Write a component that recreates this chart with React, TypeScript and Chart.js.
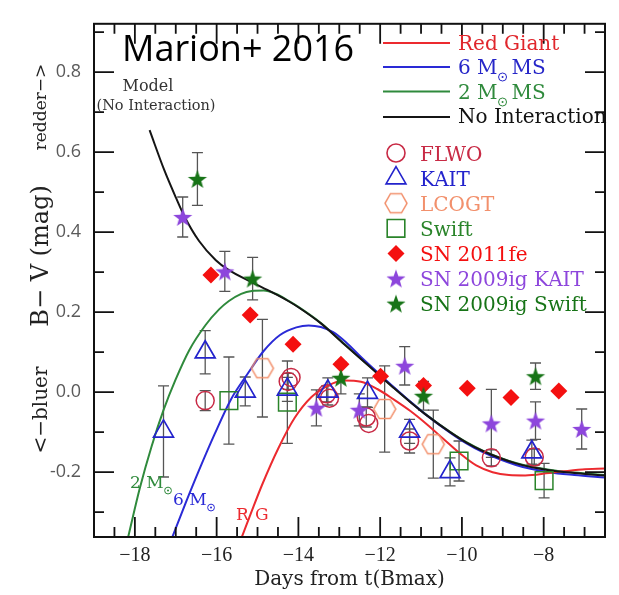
import React, { useEffect, useRef } from "react";
import { Chart, registerables } from "chart.js";

Chart.register(...registerables);

// ---------- model B−V curves (days from t(Bmax)) ----------
const RG_DAYS = [-15.33, -15.12, -14.84, -14.44, -14.04, -13.63, -13.23, -12.83, -12.42, -12.02, -11.62, -11.21, -10.81, -10.4, -10.0, -9.6, -9.2, -8.8, -8.4, -7.82, -7.01, -6.45];
const RG_BV = [-0.361, -0.305, -0.232, -0.14, -0.064, -0.012, 0.016, 0.029, 0.026, 0.008, -0.018, -0.047, -0.08, -0.117, -0.153, -0.183, -0.2, -0.207, -0.208, -0.202, -0.193, -0.191];

const MS6_DAYS = [-17.03, -16.7, -16.38, -16.0, -15.6, -15.2, -14.8, -14.4, -14.0, -13.7, -13.4, -13.1, -12.8, -12.4, -12.02, -11.6, -11.21, -10.81, -10.24, -9.84, -9.44, -8.63, -7.82, -7.2, -6.45];
const MS6_BV = [-0.361, -0.275, -0.195, -0.105, -0.018, 0.045, 0.103, 0.143, 0.162, 0.167, 0.163, 0.15, 0.126, 0.086, 0.05, 0.011, -0.024, -0.058, -0.101, -0.128, -0.15, -0.182, -0.2, -0.207, -0.213];

const MS2_DAYS = [-18.11, -17.83, -17.54, -17.25, -16.96, -16.62, -16.22, -15.89, -15.65, -15.35, -15.09, -14.8, -14.51, -14.2, -13.96, -13.4, -12.83, -12.4, -12.02, -11.6, -11.21, -10.81, -10.24, -9.84, -9.44, -8.63, -7.82, -7.2, -6.45];
const MS2_BV = [-0.36, -0.24, -0.135, -0.045, 0.03, 0.105, 0.168, 0.207, 0.228, 0.246, 0.253, 0.254, 0.246, 0.229, 0.214, 0.173, 0.121, 0.082, 0.048, 0.01, -0.024, -0.057, -0.099, -0.125, -0.146, -0.177, -0.194, -0.201, -0.207];

const NOINT_DAYS = [-17.59, -17.23, -16.94, -16.74, -16.38, -15.97, -15.65, -15.09, -14.6, -14.2, -13.96, -13.4, -12.83, -12.4, -12.02, -11.6, -11.21, -10.81, -10.24, -9.84, -9.44, -8.63, -7.82, -7.2, -6.45];
const NOINT_BV = [0.655, 0.555, 0.485, 0.44, 0.378, 0.33, 0.305, 0.275, 0.25, 0.228, 0.213, 0.172, 0.12, 0.081, 0.047, 0.009, -0.025, -0.058, -0.1, -0.126, -0.147, -0.178, -0.195, -0.202, -0.208];

// ---------- observed colours of SN 2012cg and comparison SNe ----------
const FLWO_DAYS = [-16.23, -14.2, -14.13, -13.26, -13.19, -12.29, -12.23, -11.23, -9.23, -8.18];
const FLWO_BV = [-0.021, 0.027, 0.037, -0.004, -0.015, -0.062, -0.078, -0.122, -0.164, -0.162];
const FLWO_ERR = [0.025, 0.02, 0, 0.02, 0, 0.025, 0, 0.03, 0.02, 0.02];

const KAIT_DAYS = [-17.25, -16.23, -15.25, -14.22, -13.23, -12.26, -11.23, -10.24, -8.24];
const KAIT_BV = [-0.098, 0.1, 0.002, 0.007, 0.002, -0.001, -0.098, -0.199, -0.15];
const KAIT_ERR = [0.114, 0.054, 0.036, 0.03, 0.034, 0.037, 0.03, 0.035, 0.03];

const LCOGT_DAYS = [-14.83, -11.84, -10.65];
const LCOGT_BV = [0.06, -0.042, -0.13];
const LCOGT_ERR = [0.122, 0.108, 0.085];

const SWIFT_DAYS = [-15.65, -14.22, -10.02, -7.94];
const SWIFT_BV = [-0.021, -0.025, -0.172, -0.221];
const SWIFT_ERR = [0.109, 0.103, 0.05, 0.043];

const SN2011FE_DAYS = [-16.09, -15.13, -14.08, -12.91, -11.94, -10.89, -9.82, -8.75, -7.58];
const SN2011FE_BV = [0.293, 0.193, 0.12, 0.07, 0.04, 0.017, 0.01, -0.013, 0.003];

const IG_KAIT_DAYS = [-16.78, -15.75, -13.51, -12.46, -11.35, -9.23, -8.15, -7.02];
const IG_KAIT_BV = [0.438, 0.302, -0.039, -0.044, 0.066, -0.078, -0.071, -0.092];
const IG_KAIT_ERR = [0.05, 0.05, 0.045, 0.04, 0.048, 0.085, 0.047, 0.05];

const IG_SWIFT_DAYS = [-16.42, -15.07, -12.91, -10.89, -8.15];
const IG_SWIFT_BV = [0.533, 0.284, 0.036, -0.009, 0.04];
const IG_SWIFT_ERR = [0.066, 0.053, 0.04, 0.036, 0.033];

// ---------- axes ----------
const X_MIN = -18.95;
const X_MAX = -6.45;
const Y_MIN = -0.362;
const Y_MAX = 0.921;
const X_LABELLED = [-18, -16, -14, -12, -10, -8];
const Y_LABELLED = [-0.2, 0.0, 0.2, 0.4, 0.6, 0.8];

// ---------- colours ----------
const C_RG = "#ec2a2f";
const C_MS6 = "#2a2ad6";
const C_MS2 = "#2f8a3c";
const C_NOINT = "#151515";
const C_FLWO = "#c82a45";
const C_KAIT = "#2323cc";
const C_LCOGT = "#f2906c";
const C_SWIFT = "#2a842a";
const C_2011FE = "#f41010";
const C_IG_KAIT = "#8d46dc";
const C_IG_SWIFT = "#177417";
const C_ERR = "#555555";

const SERIF = '"DejaVu Serif"';

const pts = (xs: number[], ys: number[]) => xs.map((x, i) => ({ x, y: ys[i] }));

function starImage(color: string, outer: number, inner: number) {
  const size = Math.ceil(outer * 2 + 2);
  const c = document.createElement("canvas");
  c.width = size;
  c.height = size;
  const g = c.getContext("2d")!;
  g.translate(size / 2, size / 2 + 1);
  g.beginPath();
  for (let i = 0; i < 10; i++) {
    const r = i % 2 === 0 ? outer : inner;
    const a = -Math.PI / 2 + (i * Math.PI) / 5;
    g.lineTo(r * Math.cos(a), r * Math.sin(a));
  }
  g.closePath();
  g.fillStyle = color;
  g.fill();
  return c;
}

function hexImage(color: string, r: number) {
  const size = Math.ceil(r * 2 + 4);
  const c = document.createElement("canvas");
  c.width = size;
  c.height = size;
  const g = c.getContext("2d")!;
  g.translate(size / 2, size / 2);
  g.beginPath();
  for (let i = 0; i < 6; i++) {
    const a = (i * Math.PI) / 3;
    g.lineTo(r * Math.cos(a), r * Math.sin(a));
  }
  g.closePath();
  g.strokeStyle = color;
  g.lineWidth = 1.5;
  g.stroke();
  return c;
}

function sunSymbol(ctx: CanvasRenderingContext2D, x: number, y: number, r: number, color: string) {
  ctx.save();
  ctx.strokeStyle = color;
  ctx.fillStyle = color;
  ctx.lineWidth = 1;
  ctx.beginPath();
  ctx.arc(x, y, r, 0, Math.PI * 2);
  ctx.stroke();
  ctx.beginPath();
  ctx.arc(x, y, 1, 0, Math.PI * 2);
  ctx.fill();
  ctx.restore();
}

// "n M⊙ rest" with the solar symbol set as a subscript
function massText(ctx: CanvasRenderingContext2D, x: number, y: number, lead: string, rest: string, size: number, color: string) {
  ctx.font = `${size}px ${SERIF}`;
  ctx.fillStyle = color;
  ctx.textAlign = "left";
  ctx.textBaseline = "alphabetic";
  ctx.fillText(lead, x, y);
  const w = ctx.measureText(lead).width;
  const r = size * 0.2;
  sunSymbol(ctx, x + w + r + 1, y + size * 0.15, r, color);
  if (rest) ctx.fillText(rest, x + w + 2 * r + 6, y);
}

export default function App() {
  const ref = useRef<HTMLCanvasElement>(null);

  useEffect(() => {
    const canvas = ref.current;
    if (!canvas) return;

    const purpleStar = starImage(C_IG_KAIT, 10, 4.1);
    const greenStar = starImage(C_IG_SWIFT, 10, 4.1);
    const hexagon = hexImage(C_LCOGT, 11);

    const curve = (label: string, xs: number[], ys: number[], color: string, order: number) => ({
      label,
      data: pts(xs, ys),
      showLine: true,
      borderColor: color,
      borderWidth: 2,
      pointRadius: 0,
      cubicInterpolationMode: "monotone",
      fill: false,
      order,
    });

    const datasets: any[] = [
      curve("No Interaction", NOINT_DAYS, NOINT_BV, C_NOINT, 10),
      curve("Red Giant", RG_DAYS, RG_BV, C_RG, 11),
      curve("6 M MS", MS6_DAYS, MS6_BV, C_MS6, 12),
      curve("2 M MS", MS2_DAYS, MS2_BV, C_MS2, 13),
      {
        label: "Swift",
        data: pts(SWIFT_DAYS, SWIFT_BV),
        errors: SWIFT_ERR,
        pointStyle: "rect",
        pointRadius: 12.5,
        borderColor: C_SWIFT,
        backgroundColor: "rgba(0,0,0,0)",
        borderWidth: 1.5,
        order: 6,
      },
      {
        label: "LCOGT",
        data: pts(LCOGT_DAYS, LCOGT_BV),
        errors: LCOGT_ERR,
        pointStyle: hexagon,
        order: 5,
      },
      {
        label: "SN 2011fe",
        data: pts(SN2011FE_DAYS, SN2011FE_BV),
        pointStyle: "rectRot",
        pointRadius: 8.5,
        borderWidth: 0,
        backgroundColor: C_2011FE,
        borderColor: C_2011FE,
        order: 4,
      },
      {
        label: "FLWO",
        data: pts(FLWO_DAYS, FLWO_BV),
        errors: FLWO_ERR,
        pointStyle: "circle",
        pointRadius: 9,
        borderColor: C_FLWO,
        backgroundColor: "rgba(0,0,0,0)",
        borderWidth: 1.5,
        order: 3,
      },
      {
        label: "KAIT",
        data: pts(KAIT_DAYS, KAIT_BV),
        errors: KAIT_ERR,
        pointStyle: "triangle",
        pointRadius: 11.5,
        borderColor: C_KAIT,
        backgroundColor: "rgba(0,0,0,0)",
        borderWidth: 1.7,
        order: 2,
      },
      {
        label: "SN 2009ig KAIT",
        data: pts(IG_KAIT_DAYS, IG_KAIT_BV),
        errors: IG_KAIT_ERR,
        pointStyle: purpleStar,
        order: 1,
      },
      {
        label: "SN 2009ig Swift",
        data: pts(IG_SWIFT_DAYS, IG_SWIFT_BV),
        errors: IG_SWIFT_ERR,
        pointStyle: greenStar,
        order: 0,
      },
    ];

    const background = {
      id: "background",
      beforeDraw(chart: any) {
        const { ctx, width, height } = chart;
        ctx.save();
        ctx.fillStyle = "#ffffff";
        ctx.fillRect(0, 0, width, height);
        ctx.restore();
      },
    };

    const errorBars = {
      id: "errorBars",
      beforeDatasetsDraw(chart: any) {
        const { ctx, chartArea, scales } = chart;
        const xs = scales.x;
        const ys = scales.y;
        ctx.save();
        ctx.beginPath();
        ctx.rect(chartArea.left, chartArea.top, chartArea.right - chartArea.left, chartArea.bottom - chartArea.top);
        ctx.clip();
        ctx.strokeStyle = C_ERR;
        ctx.lineWidth = 1.3;
        chart.data.datasets.forEach((ds: any) => {
          if (!ds.errors) return;
          ds.data.forEach((p: any, i: number) => {
            const e = ds.errors[i];
            if (!e) return;
            const px = xs.getPixelForValue(p.x);
            const top = ys.getPixelForValue(p.y + e);
            const bot = ys.getPixelForValue(p.y - e);
            ctx.beginPath();
            ctx.moveTo(px, top);
            ctx.lineTo(px, bot);
            ctx.moveTo(px - 5.5, top);
            ctx.lineTo(px + 5.5, top);
            ctx.moveTo(px - 5.5, bot);
            ctx.lineTo(px + 5.5, bot);
            ctx.stroke();
          });
        });
        ctx.restore();
      },
    };

    const frame = {
      id: "frame",
      afterDraw(chart: any) {
        const { ctx, chartArea: a, scales } = chart;
        ctx.save();
        ctx.strokeStyle = "#111";
        ctx.lineWidth = 2;
        ctx.strokeRect(a.left, a.top, a.right - a.left, a.bottom - a.top);
        ctx.lineWidth = 1.8;
        ctx.beginPath();
        scales.x.ticks.forEach((t: any) => {
          const px = scales.x.getPixelForValue(t.value);
          const len = t.label ? 20 : 10;
          ctx.moveTo(px, a.bottom);
          ctx.lineTo(px, a.bottom - len);
          ctx.moveTo(px, a.top);
          ctx.lineTo(px, a.top + len);
        });
        scales.y.ticks.forEach((t: any) => {
          const py = scales.y.getPixelForValue(t.value);
          const len = t.label ? 20 : 10;
          ctx.moveTo(a.left, py);
          ctx.lineTo(a.left + len, py);
          ctx.moveTo(a.right, py);
          ctx.lineTo(a.right - len, py);
        });
        ctx.stroke();
        ctx.restore();
      },
    };

    const annotations = {
      id: "annotations",
      afterDraw(chart: any) {
        const { ctx, chartArea: a } = chart;
        ctx.save();

        // heading
        ctx.fillStyle = "#000";
        ctx.font = '36px "Open Sans"';
        ctx.textAlign = "left";
        ctx.textBaseline = "alphabetic";
        ctx.fillText("Marion+ 2016", 122, 61);

        // model label
        ctx.fillStyle = "#333";
        ctx.textAlign = "center";
        ctx.font = `16px ${SERIF}`;
        ctx.fillText("Model", 148, 91);
        ctx.font = `14.5px ${SERIF}`;
        ctx.fillText("(No Interaction)", 156, 110);

        // curve tags near the lower axis
        massText(ctx, 130, 488, "2 M", "", 17, C_MS2);
        massText(ctx, 173, 505, "6 M", "", 17, C_MS6);
        ctx.font = `17px ${SERIF}`;
        ctx.fillStyle = C_RG;
        ctx.textAlign = "left";
        ctx.fillText("R", 236, 520);
        ctx.fillText("G", 255, 520);

        // axis titles
        ctx.fillStyle = "#222";
        ctx.textAlign = "center";
        ctx.font = `20px ${SERIF}`;
        ctx.fillText("Days from t(Bmax)", (a.left + a.right) / 2, 585);

        ctx.save();
        ctx.translate(48, 0);
        ctx.rotate(-Math.PI / 2);
        ctx.textBaseline = "alphabetic";
        ctx.font = `17px ${SERIF}`;
        ctx.fillText("redder\u2212>", -107, -2);
        ctx.font = `24px ${SERIF}`;
        ctx.fillText("B\u2212 V (mag)", -256, 0);
        ctx.font = `20px ${SERIF}`;
        ctx.fillText("<\u2212bluer", -410, -1);
        ctx.restore();

        // legend: model curves
        const lineRows: [string, string, string, string][] = [
          ["Red Giant", "", C_RG, "#e0262c"],
          ["6 M", "MS", C_MS6, "#2626c8"],
          ["2 M", "MS", C_MS2, "#2f8a3c"],
          ["No Interaction", "", C_NOINT, "#111"],
        ];
        const lineY = [43, 67, 91.5, 117];
        const textY = [50, 74, 99, 123];
        lineRows.forEach(([lead, rest, lc, tc], i) => {
          ctx.strokeStyle = lc;
          ctx.lineWidth = 2;
          ctx.beginPath();
          ctx.moveTo(383, lineY[i]);
          ctx.lineTo(450, lineY[i]);
          ctx.stroke();
          if (rest) {
            massText(ctx, 458, textY[i], lead, rest, 20, tc);
          } else {
            ctx.font = `20px ${SERIF}`;
            ctx.fillStyle = tc;
            ctx.textAlign = "left";
            ctx.fillText(lead, 458, textY[i]);
          }
        });

        // legend: data sets
        const markRows: [string, string, string][] = [
          ["FLWO", "circle", C_FLWO],
          ["KAIT", "triangle", C_KAIT],
          ["LCOGT", "hexagon", C_LCOGT],
          ["Swift", "square", C_SWIFT],
          ["SN 2011fe", "diamond", C_2011FE],
          ["SN 2009ig KAIT", "pstar", C_IG_KAIT],
          ["SN 2009ig Swift", "gstar", C_IG_SWIFT],
        ];
        markRows.forEach(([label, kind, color], i) => {
          const cy = 153 + i * 25.1;
          const cx = 396;
          ctx.strokeStyle = color;
          ctx.fillStyle = color;
          ctx.lineWidth = 1.6;
          ctx.beginPath();
          if (kind === "circle") {
            ctx.arc(cx, cy, 9, 0, Math.PI * 2);
            ctx.stroke();
          } else if (kind === "triangle") {
            const r = 11.5;
            ctx.moveTo(cx, cy - r);
            ctx.lineTo(cx + r * Math.sin((2 * Math.PI) / 3), cy - r * Math.cos((2 * Math.PI) / 3));
            ctx.lineTo(cx + r * Math.sin((4 * Math.PI) / 3), cy - r * Math.cos((4 * Math.PI) / 3));
            ctx.closePath();
            ctx.stroke();
          } else if (kind === "square") {
            ctx.rect(cx - 8.8, cy - 8.8, 17.6, 17.6);
            ctx.stroke();
          } else if (kind === "diamond") {
            ctx.moveTo(cx - 8.5, cy);
            ctx.lineTo(cx, cy - 8.5);
            ctx.lineTo(cx + 8.5, cy);
            ctx.lineTo(cx, cy + 8.5);
            ctx.closePath();
            ctx.fill();
          } else {
            const img = kind === "hexagon" ? hexagon : kind === "pstar" ? purpleStar : greenStar;
            ctx.drawImage(img, cx - img.width / 2, cy - img.height / 2);
          }
          ctx.font = `20px ${SERIF}`;
          ctx.textAlign = "left";
          ctx.textBaseline = "alphabetic";
          ctx.fillStyle = color;
          ctx.fillText(label, 420, cy + 7.5);
        });

        ctx.restore();
      },
    };

    const chart = new Chart(canvas, {
      type: "scatter",
      data: { datasets },
      options: {
        responsive: false,
        animation: false,
        devicePixelRatio: 1,
        layout: { padding: { top: 8, right: 10, left: 0, bottom: 0 } },
        plugins: {
          legend: { display: false },
          tooltip: { enabled: false },
        },
        scales: {
          x: {
            type: "linear",
            position: "bottom",
            min: X_MIN,
            max: X_MAX,
            afterFit: (s: any) => {
              s.height = 58;
            },
            grid: { display: false, drawTicks: false },
            border: { display: false },
            ticks: {
              stepSize: 0.5,
              autoSkip: false,
              includeBounds: false,
              maxRotation: 0,
              padding: 7,
              color: "#222",
              font: { family: "Liberation Serif", size: 20 },
              callback: (v: any) => {
                const n = Math.round(Number(v) * 2) / 2;
                return X_LABELLED.includes(n) ? "\u2212" + Math.abs(n) : "";
              },
            },
          },
          y: {
            type: "linear",
            min: Y_MIN,
            max: Y_MAX,
            afterFit: (s: any) => {
              s.width = 94;
            },
            grid: { display: false, drawTicks: false },
            border: { display: false },
            ticks: {
              stepSize: 0.1,
              autoSkip: false,
              includeBounds: false,
              padding: 13,
              color: "#5a5a5a",
              font: { family: "Open Sans", size: 18 },
              callback: (v: any) => {
                const n = Math.round(Number(v) * 10) / 10;
                return Y_LABELLED.some((l) => Math.abs(l - n) < 1e-6) ? n.toFixed(1) : "";
              },
            },
          },
        },
      } as any,
      plugins: [background, errorBars, frame, annotations],
    });

    return () => chart.destroy();
  }, []);

  return (
    <div style={{ position: "absolute", left: 0, top: 0, width: 619, height: 595 }}>
      <canvas ref={ref} width={619} height={595} style={{ display: "block", width: 619, height: 595 }} />
    </div>
  );
}
